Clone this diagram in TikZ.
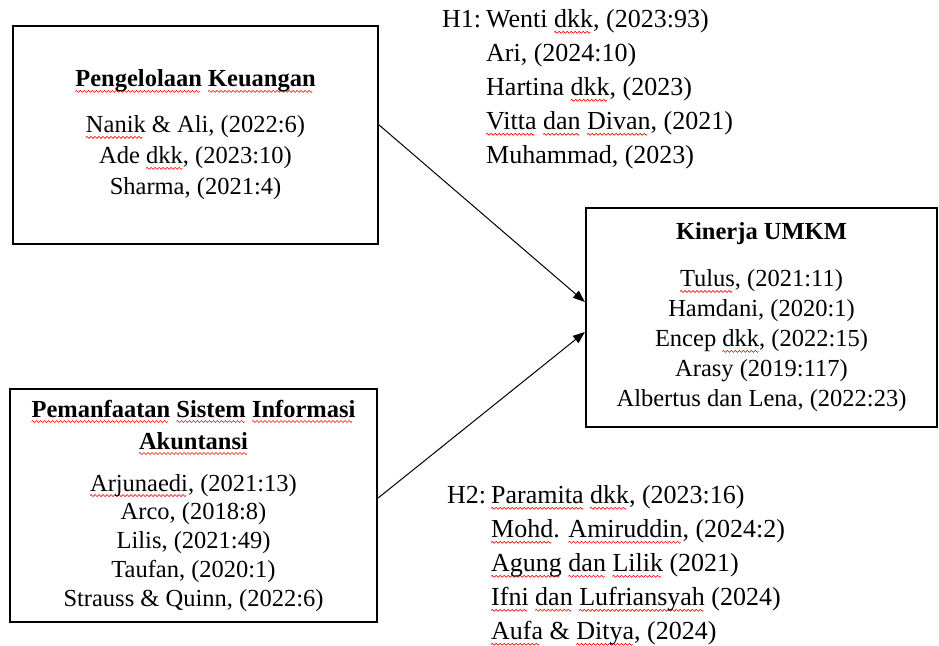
\documentclass[tikz,border=0pt]{standalone}
\usepackage{fontspec}
\setmainfont{Liberation Serif}
\usetikzlibrary{arrows.meta}
\usetikzlibrary{positioning}

% red wavy underline under a word
\newsavebox{\sqbox}
\newcommand{\sqpiece}{\tikz[baseline=0pt]{\useasboundingbox (0pt,0pt) rectangle (4pt,0pt);
\draw[red,line width=0.6pt,line cap=round] (0pt,0pt) sin (1pt,1pt) cos (2pt,0pt) sin (3pt,-1pt) cos (4pt,0pt);}}
\newcommand{\sq}[1]{\sbox{\sqbox}{#1}\rlap{\lower4.5pt\hbox to \wd\sqbox{\leaders\hbox to 4pt{\sqpiece\hss}\hfill}}\usebox{\sqbox}}

\tikzset{
  kotak/.style={draw,line width=2.2pt,align=center,inner sep=0pt},
  daftar/.style={anchor=west,inner sep=0pt,align=left},
}

\begin{document}
\begin{tikzpicture}[x=1pt,y=-1pt,line cap=round,>={Triangle[length=12pt,width=9pt]}]
\useasboundingbox (0,0) rectangle (939,645);
% variabel
\node[kotak,minimum width=365,minimum height=218,font=\fontsize{24.5}{31}\selectfont] (pk) at (195.5,135) {
{\bfseries\sq{Pengelolaan} \sq{Keuangan}}\\[15pt]
\sq{Nanik} \& Ali, (2022:6)\\
Ade \sq{dkk}, (2023:10)\\
Sharma, (2021:4)};
\node[kotak,minimum width=367,minimum height=233,font=\fontsize{24.5}{28.75}\selectfont] (psia) at (193.5,505.5) {
{\bfseries\sq{Pemanfaatan} \sq{Sistem} \sq{Informasi}}\\[3.25pt]
{\bfseries\sq{Akuntansi}}\\[13.25pt]
\sq{Arjunaedi}, (2021:13)\\
Arco, (2018:8)\\
Lilis, (2021:49)\\
Taufan, (2020:1)\\
Strauss \& Quinn, (2022:6)};
\node[kotak,minimum width=351,minimum height=219,font=\fontsize{24.5}{30}\selectfont] (kin) at (761.5,317.5) {
{\bfseries Kinerja UMKM}\\[17pt]
\sq{Tulus}, (2021:11)\\
Hamdani, (2020:1)\\
Encep \sq{dkk}, (2022:15)\\
Arasy (2019:117)\\
Albertus dan Lena, (2022:23)};
% hipotesis
\node[daftar,font=\fontsize{26}{34}\selectfont] (hsatu) at (442,89) {%
\begin{tabular}{@{}l@{\hspace{5pt}}l@{}}
H1: & Wenti \sq{dkk}, (2023:93)\\
 & Ari, (2024:10)\\
 & Hartina \sq{dkk}, (2023)\\
 & \sq{Vitta} \sq{dan} \sq{Divan}, (2021)\\
 & Muhammad, (2023)
\end{tabular}};
\node[daftar,font=\fontsize{26}{34}\selectfont] (hdua) at (447,565) {%
\begin{tabular}{@{}l@{\hspace{5pt}}l@{}}
H2: & \sq{Paramita} \sq{dkk}, (2023:16)\\
 & \sq{Mohd}. \sq{Amiruddin}, (2024:2)\\
 & \sq{Agung} \sq{dan} \sq{Lilik} (2021)\\
 & \sq{Ifni} \sq{dan} \sq{Lufriansyah} (2024)\\
 & \sq{Aufa} \& \sq{Ditya}, (2024)
\end{tabular}};
% panah
\draw[->,line width=1pt] ([yshift=10pt]pk.east) -- ([yshift=15.5pt]kin.west);
\draw[->,line width=1pt] ([yshift=7.5pt]psia.east) -- ([yshift=-14.5pt]kin.west);
\end{tikzpicture}
\end{document}
